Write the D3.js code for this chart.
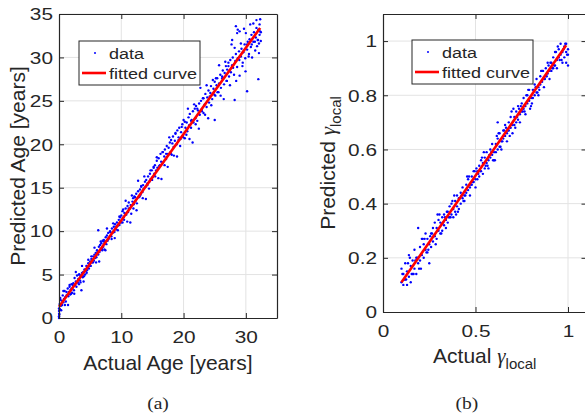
<!DOCTYPE html>
<html>
<head>
<meta charset="utf-8">
<script src="https://cdn.jsdelivr.net/npm/d3@7"></script>
<style>
body{margin:0;background:#fff}
text{font-family:"Liberation Sans",Arial,sans-serif;fill:#262626}
</style>
</head>
<body>
<script>
// panel (a): actual vs predicted age, [actual, predicted]
const agePoints = [
 [0,0.0],[0,0.2],[0.02,0.5],[0,0.8],[0,1.1],[0.05,0.4],[0.1,1.6],[0.15,1.0],[0.2,2.3],[0.3,1.4],[0.35,0.9],[0.45,2.0],[0.5,1.5],[0.6,2.6],[0.7,1.8],[0.8,2.2],[0.9,3.1],[1.0,2.4],[1.1,1.9],[1.2,3.0],[1.3,2.6],[1.4,3.4],[1.5,2.5],[1.6,3.0],[1.7,3.6],[1.8,2.7],[1.9,3.3],
 [2.0,3.9],[2.1,2.9],[2.2,3.5],[2.3,4.0],[2.4,3.2],[2.5,4.6],[2.6,3.8],[2.7,4.2],[2.8,3.6],[2.9,4.9],[3.0,4.1],[3.1,4.5],[3.2,3.9],[3.3,5.0],[3.4,4.3],[3.5,4.8],[3.6,3.2],[3.7,5.2],[3.8,4.7],[3.9,5.3],
 [4.0,4.8],[4.1,5.6],[4.2,5.0],[4.3,5.4],[4.4,6.0],[4.5,5.5],[4.6,5.9],[4.7,6.3],[4.8,5.7],[4.9,6.2],[5.0,6.5],[5.1,6.0],[5.2,6.8],[5.3,6.4],[5.4,6.7],[5.5,7.1],[5.6,6.6],[5.7,7.3],[5.8,6.9],[5.9,7.5],
 [6.0,7.0],[6.1,7.8],[6.3,10.1],[6.3,7.3],[6.4,8.2],[6.5,7.6],[6.6,8.4],[6.7,7.9],[6.8,8.6],[6.9,8.0],[7.0,8.9],[7.1,8.2],[7.2,9.0],[7.3,7.9],[7.4,8.8],[7.5,9.3],[7.6,8.5],[7.7,9.5],[7.8,8.9],[7.9,9.8],
 [8.0,9.2],[8.2,10.0],[8.4,9.4],[8.5,10.3],[8.6,9.8],[8.8,10.5],[8.9,9.9],[9.0,10.8],[9.2,10.2],[9.3,11.0],[9.4,10.6],[9.6,11.3],[9.7,10.7],[9.8,11.6],[9.9,11.1],
 [10.0,11.8],[10.2,11.0],[10.3,12.5],[10.4,11.6],[10.5,12.1],[10.7,12.6],[10.8,11.9],[11.0,12.9],[11.1,12.2],[11.2,13.3],[11.4,12.6],[11.5,13.0],[11.6,12.0],[11.8,13.4],[11.9,13.8],
 [12.0,13.1],[12.1,14.0],[12.3,13.5],[12.4,14.3],[12.5,13.2],[12.7,14.6],[12.8,13.9],[13.0,14.8],[13.1,14.2],[13.2,15.2],[13.4,14.5],[13.5,15.3],[13.6,14.9],[13.8,15.7],[13.9,15.1],
 [14.0,15.9],[14.2,15.3],[14.3,16.3],[14.5,15.7],[14.6,16.6],[14.7,16.0],[14.9,17.0],[15.0,16.2],[15.2,17.4],[15.3,16.6],[15.4,17.6],[15.6,17.0],[15.7,18.1],[15.8,17.3],[16.0,18.4],
 [16.1,17.5],[16.3,18.9],[16.4,18.0],[16.6,19.1],[16.7,17.9],[16.9,18.6],[17.0,19.4],[17.2,18.3],[17.3,19.8],[17.5,18.9],[17.6,19.6],[17.8,20.2],[17.9,19.1],[18.0,20.5],[18.1,18.8],
 [18.3,20.9],[18.4,19.7],[18.6,20.4],[18.7,21.2],[18.9,20.0],[19.0,21.6],[19.2,20.8],[19.3,21.9],[19.5,20.6],[19.6,21.4],[19.8,22.3],[19.9,21.0],[20.0,22.8],[20.2,20.7],[20.3,21.9],
 [20.5,22.5],[20.6,21.5],[20.8,23.1],[20.9,22.2],[21.0,23.5],[21.2,21.9],[21.3,22.8],[21.5,23.8],[21.6,22.5],[21.8,24.1],[21.9,23.0],[22.0,24.4],[22.2,22.7],[22.3,23.9],[22.5,24.7],
 [22.6,23.4],[22.8,25.0],[22.9,24.0],[23.1,25.3],[23.2,23.6],[23.4,24.6],[23.5,25.8],[23.7,24.3],[23.8,25.4],[24.0,26.2],[24.1,24.8],[24.3,25.9],[24.4,26.7],[24.6,25.2],[25.0,22.8],
 [24.8,26.4],[25.0,27.2],[25.1,25.6],[25.3,26.8],[25.4,27.6],[25.6,26.0],[25.7,27.0],[25.9,28.0],[26.0,26.5],[26.2,27.8],[26.3,28.5],[26.5,26.9],[26.6,28.2],[26.8,29.0],[26.9,27.3],
 [27.0,28.6],[27.2,29.4],[28.2,25.1],[27.3,27.8],[27.5,29.7],[27.6,28.3],[27.8,29.1],[27.8,32.0],[27.9,30.0],[28.1,28.0],[28.3,29.6],[28.4,30.4],[28.4,33.6],[28.6,28.9],[28.6,32.8],[28.7,29.9],[28.9,30.7],[29.0,27.9],[29.0,33.0],[29.2,30.1],[29.3,31.0],
 [29.5,29.4],[29.6,30.6],[29.8,31.5],[29.9,29.9],[30.0,32.8],[30.2,30.9],[30.2,26.1],[30.3,31.8],[30.5,30.4],[30.6,32.1],[30.8,31.2],[30.9,32.6],[31.0,30.0],[31.2,31.8],[31.3,32.9],[31.5,30.8],[31.6,32.3],[31.7,33.4],[31.8,31.3],[31.9,32.0],
 [32.0,33.2],[32.1,30.5],[32.2,32.6],[32.3,34.4],[32.0,27.5],[32.4,31.9],[32.3,33.0],[32.1,31.6],[32.4,32.9],
 [0.2,2.1],[0.45,1.5],[0.7,3.1],[0.95,1.5],[1.2,2.6],[1.45,1.5],[1.7,3.8],[1.95,2.8],[2.2,3.8],[2.45,2.8],[2.7,5.3],[2.95,4.1],[3.2,5.0],[3.45,4.1],[3.7,6.0],[3.95,4.2],[4.2,5.5],[4.45,5.2],[4.7,6.7],[4.95,6.0],
 [5.2,7.1],[5.45,6.4],[5.7,8.1],[5.95,6.4],[6.2,7.6],[6.45,6.5],[6.7,8.8],[6.95,7.8],[7.2,8.8],[7.45,7.8],[7.7,10.3],[7.95,9.1],[8.2,9.9],[8.45,9.1],[8.7,10.9],[8.95,9.2],[9.2,10.5],[9.45,10.1],[9.7,11.7],[9.95,11.0],
 [10.2,12.3],[10.45,11.3],[10.7,13.5],[10.95,11.1],[11.2,12.6],[11.45,11.0],[11.7,14.1],[11.95,12.6],[12.2,13.9],[12.45,12.4],[12.7,15.8],[12.95,14.0],[13.2,15.1],[13.45,13.8],[13.7,16.3],[13.95,13.7],[14.2,15.5],[14.45,14.9],[14.7,17.0],[14.95,15.9],
 [15.2,17.3],[15.45,16.3],[15.7,18.5],[15.95,16.1],[16.2,17.6],[16.45,16.0],[16.7,19.1],[16.95,17.6],[17.2,18.9],[17.45,17.4],[17.7,20.8],[17.95,18.9],[18.2,20.1],[18.45,18.7],[18.7,21.3],[18.95,18.6],[19.2,20.5],[19.45,19.8],[19.7,22.0],[19.95,20.8],
 [20.2,22.6],[20.45,21.1],[20.7,24.1],[20.95,20.6],[21.2,22.7],[21.45,20.2],[21.7,24.6],[21.95,22.3],[22.2,24.1],[22.45,21.8],[22.7,26.5],[22.95,23.8],[23.2,25.3],[23.45,23.4],[23.7,26.8],[23.95,23.0],[24.2,25.5],[24.45,24.5],[24.7,27.4],[24.95,25.7],
 [25.2,27.6],[25.45,26.0],[25.7,29.1],[25.95,25.6],[26.2,27.6],[26.45,25.2],[26.7,29.5],[26.95,27.3],[27.2,29.0],[27.45,26.8],[27.7,31.5],[27.95,28.8],[28.2,31.1],[28.45,27.3],[28.7,33.2],[28.95,29.7],[29.2,31.6],[29.45,29.0],[29.7,33.3],[29.95,28.4],
 [30.2,31.5],[30.45,30.1],[30.7,33.8],[30.95,31.5],[31.2,33.9],[31.45,31.8],[31.7,34.3],[31.95,32.0],[32.2,33.8]
];
const ageFit = [[0,1.3],[32.3,33.4]];
const ageTicksX = [0,10,20,30];
const ageTicksY = [0,5,10,15,20,25,30,35];

// panel (b): actual vs predicted gamma_local
const gamPoints = [
 [0.10,0.11],[0.10,0.16],[0.11,0.10],[0.11,0.14],[0.12,0.18],[0.12,0.12],[0.13,0.10],[0.13,0.15],[0.14,0.21],[0.14,0.13],[0.15,0.17],[0.15,0.11],[0.16,0.19],[0.16,0.14],[0.17,0.23],[0.17,0.16],[0.18,0.20],[0.18,0.14],[0.19,0.31],[0.19,0.18],[0.20,0.24],[0.20,0.19],[0.21,0.21],[0.21,0.27],[0.22,0.20],[0.22,0.25],
 [0.23,0.23],[0.23,0.29],[0.24,0.22],[0.24,0.27],[0.25,0.18],[0.25,0.25],[0.26,0.29],[0.26,0.24],[0.27,0.31],[0.27,0.26],[0.28,0.28],[0.28,0.33],[0.29,0.27],[0.29,0.31],[0.30,0.30],[0.30,0.34],[0.31,0.29],[0.31,0.33],[0.32,0.35],[0.32,0.30],[0.33,0.32],[0.33,0.36],[0.34,0.34],[0.34,0.31],[0.35,0.37],[0.35,0.33],
 [0.36,0.35],[0.36,0.39],[0.37,0.36],[0.37,0.40],[0.38,0.38],[0.38,0.35],[0.39,0.41],[0.39,0.37],[0.40,0.39],[0.40,0.43],[0.41,0.38],[0.41,0.42],[0.42,0.44],[0.42,0.40],[0.43,0.42],[0.43,0.46],[0.44,0.43],[0.44,0.41],[0.45,0.47],[0.45,0.44],[0.46,0.45],[0.46,0.49],[0.47,0.46],[0.47,0.43],[0.48,0.50],[0.48,0.47],[0.49,0.48],[0.49,0.52],[0.50,0.49],[0.50,0.46],
 [0.51,0.52],[0.51,0.49],[0.52,0.54],[0.52,0.50],[0.53,0.52],[0.53,0.56],[0.54,0.51],[0.54,0.55],[0.55,0.57],[0.55,0.53],[0.56,0.55],[0.56,0.59],[0.57,0.56],[0.57,0.53],[0.58,0.60],[0.58,0.57],[0.59,0.58],[0.59,0.62],[0.60,0.59],[0.60,0.56],[0.61,0.62],[0.61,0.59],[0.62,0.64],[0.62,0.60],[0.62,0.70],[0.63,0.61],[0.63,0.66],[0.64,0.63],[0.64,0.60],[0.65,0.67],[0.65,0.64],
 [0.66,0.65],[0.66,0.69],[0.67,0.66],[0.67,0.63],[0.68,0.70],[0.68,0.67],[0.69,0.68],[0.69,0.72],[0.70,0.69],[0.70,0.66],[0.71,0.72],[0.71,0.69],[0.72,0.74],[0.72,0.70],[0.73,0.71],[0.73,0.76],[0.74,0.73],[0.74,0.70],[0.75,0.77],[0.75,0.74],[0.76,0.75],[0.76,0.79],[0.77,0.76],[0.77,0.73],[0.78,0.80],[0.78,0.77],[0.79,0.78],[0.79,0.82],[0.80,0.79],[0.80,0.76],
 [0.81,0.82],[0.81,0.79],[0.82,0.84],[0.82,0.80],[0.83,0.81],[0.83,0.86],[0.84,0.83],[0.84,0.80],[0.85,0.87],[0.85,0.84],[0.86,0.85],[0.86,0.89],[0.87,0.86],[0.87,0.83],[0.88,0.90],[0.88,0.87],[0.89,0.88],[0.89,0.92],[0.90,0.89],[0.90,0.86],[0.91,0.92],[0.91,0.89],[0.92,0.94],[0.92,0.90],[0.93,0.91],[0.93,0.96],[0.94,0.93],[0.94,0.90],[0.95,0.97],[0.95,0.94],[0.96,0.95],[0.96,0.99],[0.97,0.96],[0.97,0.92],[0.98,0.98],[0.98,0.94],[0.99,0.99],[0.99,0.96],[1.0,0.97],[1.0,0.91],[0.99,0.92],[1.0,0.95],
 [0.105,0.14],[0.125,0.12],[0.145,0.20],[0.165,0.14],[0.185,0.20],[0.205,0.16],[0.225,0.27],[0.245,0.23],[0.265,0.29],[0.285,0.25],[0.305,0.36],[0.325,0.33],[0.345,0.37],[0.365,0.35],[0.385,0.43],
 [0.405,0.37],[0.425,0.43],[0.445,0.43],[0.465,0.50],[0.485,0.48],[0.505,0.53],[0.525,0.52],[0.545,0.59],[0.565,0.54],[0.585,0.59],[0.605,0.56],[0.625,0.66],[0.645,0.63],[0.665,0.68],[0.685,0.65],
 [0.705,0.75],[0.725,0.72],[0.745,0.76],[0.765,0.74],[0.785,0.82],[0.805,0.77],[0.825,0.83],[0.845,0.82],[0.865,0.89],[0.885,0.87],[0.905,0.92],[0.925,0.91],[0.945,0.98],[0.965,0.93],[0.985,0.99],
 [0.115,0.12],[0.135,0.18],[0.155,0.14],[0.175,0.19],[0.195,0.16],[0.215,0.27],[0.235,0.22],[0.255,0.28],[0.275,0.28],[0.295,0.36],[0.315,0.29],[0.335,0.35],[0.355,0.35],[0.375,0.41],[0.395,0.36],
 [0.415,0.42],[0.435,0.41],[0.455,0.50],[0.475,0.47],[0.495,0.52],[0.515,0.51],[0.535,0.57],[0.555,0.54],[0.575,0.58],[0.595,0.56],[0.615,0.65],[0.635,0.61],[0.655,0.67],[0.675,0.67],[0.695,0.74],
 [0.715,0.68],[0.735,0.75],[0.755,0.74],[0.775,0.80],[0.795,0.75],[0.815,0.82],[0.835,0.81],[0.855,0.89],[0.875,0.86],[0.895,0.91],[0.915,0.90],[0.935,0.96],[0.955,0.93],[0.975,0.97],[0.995,0.95]
];
const gamFit = [[0.1,0.11],[0.99,0.985]];
const gamTicksX = [0,0.5,1];
const gamTicksY = [0,0.2,0.4,0.6,0.8,1];

const W = 585, H = 417;
const axisColor = "#262626", gridColor = "#e3e3e3";

const svg = d3.select("body").append("svg")
  .attr("width", W).attr("height", H);

function stretchText(sel, sx) {
  sel.each(function(){
    const t = d3.select(this);
    const x = +t.attr("x") || 0;
    t.attr("x", x / sx).attr("transform", "scale(" + sx + ",1)");
  });
}

function drawPanel(o) {
  const x = d3.scaleLinear().domain(o.xDomain).range([o.left, o.left + o.width]);
  const y = d3.scaleLinear().domain(o.yDomain).range([o.top + o.height, o.top]);
  const g = svg.append("g");

  // grid
  g.selectAll(".gx").data(o.ticksX.filter(v => v > o.xDomain[0])).join("line")
    .attr("x1", d => x(d)).attr("x2", d => x(d))
    .attr("y1", o.top).attr("y2", o.top + o.height)
    .attr("stroke", gridColor).attr("stroke-width", 1);
  g.selectAll(".gy").data(o.ticksY.filter(v => v > o.yDomain[0])).join("line")
    .attr("y1", d => y(d)).attr("y2", d => y(d))
    .attr("x1", o.left).attr("x2", o.left + o.width)
    .attr("stroke", gridColor).attr("stroke-width", 1);

  // data
  g.selectAll(".pt").data(o.points).join("circle")
    .attr("cx", d => x(d[0])).attr("cy", d => y(d[1]))
    .attr("r", 1.2).attr("fill", "#0000ff");

  const line = d3.line().x(d => x(d[0])).y(d => y(d[1]));
  g.append("path").attr("d", line(o.fit))
    .attr("fill", "none").attr("stroke", "#ff0000").attr("stroke-width", 2.6);

  // axes, ticks pointing inward on all four sides
  const bottom = g.append("g").attr("transform", "translate(0," + (o.top + o.height) + ")")
    .call(d3.axisBottom(x).tickValues(o.ticksX).tickSize(-5).tickSizeOuter(0).tickFormat(d3.format("~g")));
  const left = g.append("g").attr("transform", "translate(" + o.left + ",0)")
    .call(d3.axisLeft(y).tickValues(o.ticksY).tickSize(-5).tickSizeOuter(0).tickFormat(d3.format("~g")));
  g.append("g").attr("transform", "translate(0," + o.top + ")")
    .call(d3.axisTop(x).tickValues(o.ticksX).tickSize(-5).tickSizeOuter(0).tickFormat(""));
  g.append("g").attr("transform", "translate(" + (o.left + o.width) + ",0)")
    .call(d3.axisRight(y).tickValues(o.ticksY).tickSize(-5).tickSizeOuter(0).tickFormat(""));

  g.selectAll(".domain").attr("stroke", axisColor).attr("stroke-width", 1.2);
  g.selectAll(".tick line").attr("stroke", axisColor);
  g.selectAll(".tick text").attr("font-family", null).style("font-size", "16px").attr("fill", axisColor);
  bottom.selectAll(".tick text").attr("y", 25).attr("dy", null);
  left.selectAll(".tick text").attr("x", -6).attr("dy", "0.36em");
  stretchText(bottom.selectAll(".tick text"), 1.3);
  stretchText(left.selectAll(".tick text"), 1.3);

  // axis labels
  o.xLabel(g.append("text")
    .attr("x", o.left + o.width / 2).attr("y", o.xLabelY)
    .attr("text-anchor", "middle").style("font-size", "21px"));
  o.yLabel(g.append("text")
    .attr("transform", "translate(" + o.yLabelX + "," + (o.top + o.height / 2) + ") rotate(-90)")
    .attr("text-anchor", "middle").style("font-size", "21px"));

  // legend
  const lg = g.append("g").attr("transform", "translate(" + o.legend[0] + "," + o.legend[1] + ")");
  lg.append("rect").attr("width", 121).attr("height", 44)
    .attr("fill", "#fff").attr("stroke", axisColor).attr("stroke-width", 1);
  lg.append("circle").attr("cx", 16).attr("cy", 12).attr("r", 1).attr("fill", "#0000ff");
  lg.append("line").attr("x1", 3).attr("x2", 27).attr("y1", 32).attr("y2", 32)
    .attr("stroke", "#ff0000").attr("stroke-width", 2.6);
  lg.append("text").attr("x", 30).attr("y", 18).style("font-size", "15px").text("data")
    .call(s => stretchText(s, 1.2));
  lg.append("text").attr("x", 30).attr("y", 38).style("font-size", "15px").text("fitted curve")
    .call(s => stretchText(s, 1.2));

  // caption
  svg.append("text").attr("x", o.captionX).attr("y", 409)
    .attr("text-anchor", "middle")
    .style("font-family", "'Liberation Serif','Times New Roman',serif")
    .style("font-size", "17px").attr("fill", "#000")
    .text(o.caption).call(s => stretchText(s, 1.15));
}

function gammaLabel(t, word) {
  t.append("tspan").text(word + " ");
  t.append("tspan").style("font-family", "'Liberation Serif',serif").style("font-style", "italic").text("γ");
  t.append("tspan").attr("dy", 6).style("font-size", "15px").text("local");
}

drawPanel({
  points: agePoints, fit: ageFit,
  xDomain: [0, 35], yDomain: [0, 35],
  ticksX: ageTicksX, ticksY: ageTicksY,
  left: 59, top: 14, width: 218, height: 304,
  xLabelY: 370, yLabelX: 25,
  xLabel: t => t.text("Actual Age [years]"),
  yLabel: t => t.text("Predicted Age [years]"),
  legend: [79, 41], caption: "(a)", captionX: 158
});

drawPanel({
  points: gamPoints, fit: gamFit,
  xDomain: [0, 1.1], yDomain: [0, 1.1],
  ticksX: gamTicksX, ticksY: gamTicksY,
  left: 383, top: 14, width: 203.5, height: 298,
  xLabelY: 363, yLabelX: 335,
  xLabel: t => gammaLabel(t, "Actual"),
  yLabel: t => gammaLabel(t, "Predicted"),
  legend: [412, 40], caption: "(b)", captionX: 467
});
</script>
</body>
</html>
